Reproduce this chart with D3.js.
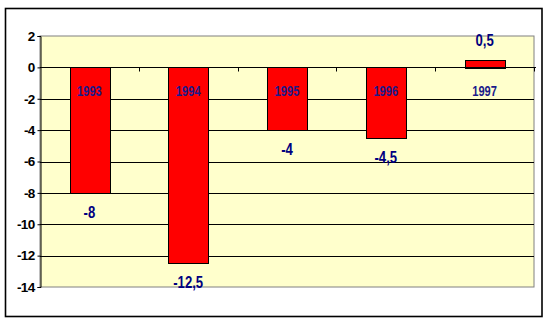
<!DOCTYPE html>
<html lang="en">
<head>
    <meta charset="UTF-8">
    <title>Chart</title>
    <style>
        body { margin: 0; background: #fff; }
        text { font-family: "Liberation Sans", Arial, sans-serif; }
    </style>
</head>
<body>
    <svg id="chart" width="548" height="323"></svg>
    <script src="https://d3js.org/d3.v7.min.js"></script>
    <script>
        const years = ['1993', '1994', '1995', '1996', '1997'];
        const values = [-8, -12.5, -4, -4.5, 0.5];
        const yTicks = [2, 0, -2, -4, -6, -8, -10, -12, -14];

        const svg = d3.select('#chart');
        const plot = {left: 40, right: 534, top: 36, bottom: 287};

        // outer frame
        svg.append('rect')
            .attr('x', 5.5).attr('y', 8.5)
            .attr('width', 536.5).attr('height', 308)
            .attr('fill', '#fff').attr('stroke', '#000').attr('stroke-width', 1.6);

        const x = d3.scaleBand().domain(years).range([plot.left, plot.right]);
        const y = d3.scaleLinear().domain([-14, 2]).range([plot.bottom, plot.top]);

        // plot area
        svg.append('rect')
            .attr('x', plot.left).attr('y', plot.top)
            .attr('width', plot.right - plot.left).attr('height', plot.bottom - plot.top)
            .attr('fill', '#FFFFCC').attr('stroke', '#808080').attr('stroke-width', 1);

        // gridlines
        svg.append('g').selectAll('line')
            .data(yTicks.filter(d => d !== 2 && d !== -14))
            .join('line')
            .attr('x1', plot.left).attr('x2', plot.right)
            .attr('y1', d => Math.round(y(d)) + 0.5).attr('y2', d => Math.round(y(d)) + 0.5)
            .attr('stroke', '#000').attr('stroke-width', 1);

        // bars
        const bw = x.bandwidth() / 2.5;
        svg.append('g').selectAll('rect')
            .data(values)
            .join('rect')
            .attr('x', (d, i) => Math.round(x(years[i]) + (x.bandwidth() - bw) / 2) + 0.5)
            .attr('y', d => Math.round(y(Math.max(0, d))) + 0.5)
            .attr('width', Math.round(bw))
            .attr('height', d => Math.round(Math.abs(y(d) - y(0))))
            .attr('fill', '#FF0000').attr('stroke', '#000').attr('stroke-width', 1);

        // zero axis with category ticks
        const y0 = Math.round(y(0)) + 0.5;
        svg.append('line')
            .attr('x1', plot.left).attr('x2', plot.right + 2)
            .attr('y1', y0).attr('y2', y0)
            .attr('stroke', '#000').attr('stroke-width', 1);
        svg.append('g').selectAll('line')
            .data(years.slice(1).concat(['end']))
            .join('line')
            .attr('x1', d => Math.round(d === 'end' ? plot.right : x(d)) + 0.5)
            .attr('x2', d => Math.round(d === 'end' ? plot.right : x(d)) + 0.5)
            .attr('y1', y0).attr('y2', y0 + 4)
            .attr('stroke', '#000');

        // y axis
        const yAxis = svg.append('g')
            .attr('transform', `translate(${plot.left + 0.5},0)`)
            .call(d3.axisLeft(y).tickValues(yTicks).tickSize(3).tickPadding(3).tickFormat(d3.format('d')));
        yAxis.select('.domain').attr('stroke', '#000');
        yAxis.selectAll('.tick line').attr('stroke', '#000');
        yAxis.selectAll('text')
            .attr('font-family', '"Liberation Sans", Arial, sans-serif')
            .attr('font-size', 13.5).attr('font-weight', 'bold')
            .attr('letter-spacing', -0.7)
            .attr('fill', '#000')
            .text(d => String(d));

        // category labels
        svg.append('g').selectAll('text')
            .data(years)
            .join('text')
            .attr('transform', d => `translate(${x(d) + x.bandwidth() / 2},${y0 + 28}) scale(0.72,1)`)
            .attr('text-anchor', 'middle')
            .attr('font-size', 15.5)
            .attr('font-weight', 'bold')
            .attr('fill', '#1A1A8A')
            .text(d => d);

        // value labels
        svg.append('g').selectAll('text')
            .data(values)
            .join('text')
            .attr('transform', (d, i) => `translate(${x(years[i]) + x.bandwidth() / 2},${d < 0 ? y(d) + 25 : y(d) - 14}) scale(0.82,1)`)
            .attr('text-anchor', 'middle')
            .attr('font-size', 16)
            .attr('font-weight', 'bold')
            .attr('fill', '#000080')
            .text(d => String(d).replace('.', ','));
    </script>
</body>
</html>
